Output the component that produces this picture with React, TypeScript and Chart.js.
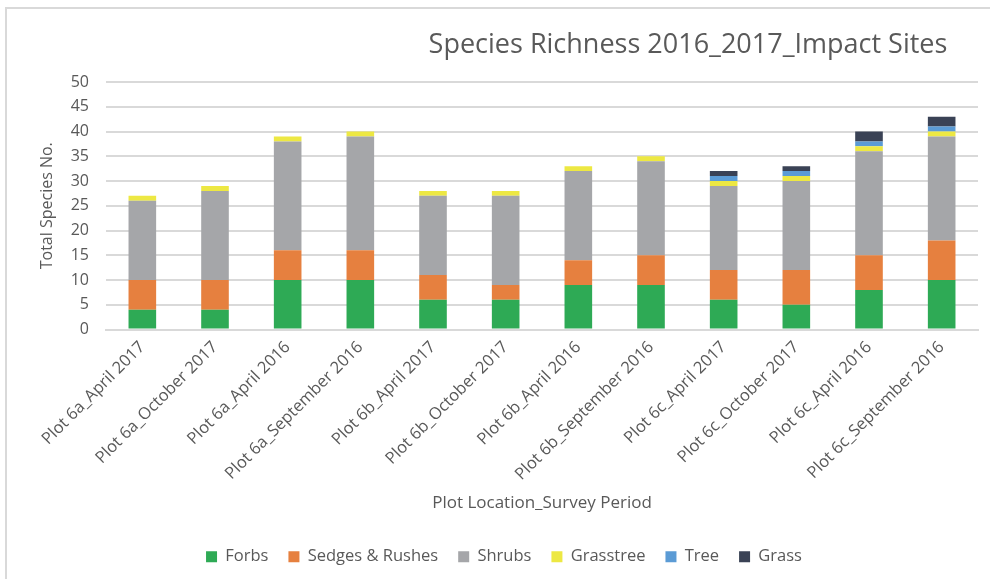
import React, { useEffect, useRef } from "react";
import { Chart, registerables } from "chart.js";

Chart.register(...registerables);

const categories = [
  "Plot 6a_April 2017",
  "Plot 6a_October 2017",
  "Plot 6a_April 2016",
  "Plot 6a_September 2016",
  "Plot 6b_April 2017",
  "Plot 6b_October 2017",
  "Plot 6b_April 2016",
  "Plot 6b_September 2016",
  "Plot 6c_April 2017",
  "Plot 6c_October 2017",
  "Plot 6c_April 2016",
  "Plot 6c_September 2016",
];
const forbs = [4, 4, 10, 10, 6, 6, 9, 9, 6, 5, 8, 10];
const sedgesRushes = [6, 6, 6, 6, 5, 3, 5, 6, 6, 7, 7, 8];
const shrubs = [16, 18, 22, 23, 16, 18, 18, 19, 17, 18, 21, 21];
const grasstree = [1, 1, 1, 1, 1, 1, 1, 1, 1, 1, 1, 1];
const tree = [0, 0, 0, 0, 0, 0, 0, 0, 1, 1, 1, 1];
const grass = [0, 0, 0, 0, 0, 0, 0, 0, 1, 1, 2, 2];
const yTicks = [0, 5, 10, 15, 20, 25, 30, 35, 40, 45, 50];

const TITLE = "Species Richness 2016_2017_Impact Sites";
const TEXT = "#595959";
const GRID = "#d9d9d9";
const FONT = "'Open Sans', 'DejaVu Sans', sans-serif";

const titlePlugin = {
  id: "customTitle",
  afterDraw(chart: any) {
    const ctx = chart.ctx;
    ctx.save();
    ctx.font = `27px ${FONT}`;
    ctx.fillStyle = TEXT;
    ctx.textAlign = "center";
    ctx.textBaseline = "middle";
    ctx.fillText(TITLE, 688, 45);
    ctx.restore();
  },
};

export default function App() {
  const ref = useRef<HTMLCanvasElement | null>(null);
  useEffect(() => {
    if (!ref.current) return;
    const mk = (label: string, data: number[], color: string) => ({
      label,
      data,
      backgroundColor: color,
      borderWidth: 0,
      categoryPercentage: 1,
      barPercentage: 0.38,
    });
    const chart = new Chart(ref.current, {
      type: "bar",
      data: {
        labels: categories,
        datasets: [
          mk("Forbs", forbs, "#2eaa55"),
          mk("Sedges & Rushes", sedgesRushes, "#e6803f"),
          mk("Shrubs", shrubs, "#a5a6a9"),
          mk("Grasstree", grasstree, "#ede843"),
          mk("Tree", tree, "#5b9bd5"),
          mk("Grass", grass, "#3a4255"),
        ],
      },
      options: {
        animation: false,
        responsive: true,
        maintainAspectRatio: false,
        layout: { padding: { top: 82, right: 12, bottom: 4, left: 30 } },
        plugins: {
          title: { display: false },
          tooltip: { enabled: false },
          legend: {
            position: "bottom",
            labels: {
              color: TEXT,
              font: { family: FONT, size: 16.5 },
              boxWidth: 11,
              boxHeight: 11,
              padding: 20,
            },
          },
        },
        scales: {
          x: {
            stacked: true,
            grid: { display: false, drawTicks: false },
            border: { display: true, color: GRID, width: 2 },
            ticks: {
              color: TEXT,
              font: { family: FONT, size: 16.5 },
              minRotation: 45,
              maxRotation: 45,
              autoSkip: false,
              padding: 8,
            },
            title: {
              display: true,
              text: "Plot Location_Survey Period",
              color: TEXT,
              font: { family: FONT, size: 17 },
              padding: { top: 0, bottom: 15 },
            },
            afterFit(scale: any) {
              scale.height = 199;
            },
          },
          y: {
            stacked: true,
            min: 0,
            max: 50,
            afterBuildTicks(scale: any) {
              scale.ticks = yTicks.map((v) => ({ value: v }));
            },
            grid: { color: GRID, lineWidth: 2, drawTicks: false },
            border: { display: false },
            ticks: {
              color: TEXT,
              font: { family: FONT, size: 16 },
              padding: 17,
            },
            title: {
              display: true,
              text: "Total Species No.",
              color: TEXT,
              font: { family: FONT, size: 16 },
              padding: { top: 8, bottom: 0 },
            },
            afterFit(scale: any) {
              scale.width = 76;
            },
          },
        },
      },
      plugins: [titlePlugin],
    } as any);
    return () => chart.destroy();
  }, []);

  return (
    <div style={{ position: "absolute", left: 0, top: 0, width: 990, height: 579, background: "#fff", overflow: "hidden" }}>
      <div
        style={{
          position: "absolute",
          left: 5,
          top: 7,
          width: 1000,
          height: 600,
          borderTop: `2px solid ${GRID}`,
          borderLeft: `2px solid ${GRID}`,
        }}
      />
      <div style={{ position: "absolute", left: 0, top: 0, width: 990, height: 579 }}>
        <canvas ref={ref} />
      </div>
    </div>
  );
}
